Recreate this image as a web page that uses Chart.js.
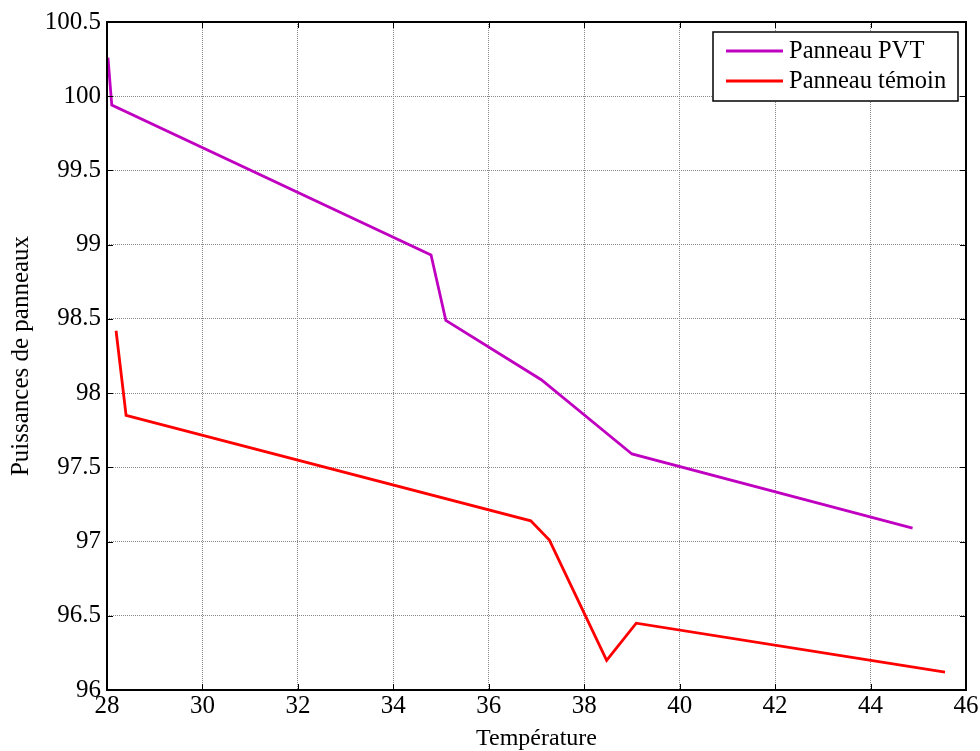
<!DOCTYPE html>
<html>
<head>
<meta charset="utf-8">
<script src="https://cdn.jsdelivr.net/npm/chart.js@4/dist/chart.umd.min.js"></script>
<style>
  html, body { margin: 0; padding: 0; background: #fff; }
  #wrap { width: 980px; height: 751px; }
</style>
</head>
<body>
<div id="wrap"><canvas id="chart" width="980" height="751"></canvas></div>
<script>
// data
const pvtTemp = [28.02, 28.1, 34.79, 35.1, 37.1, 39.0, 44.88];
const pvtPower = [100.26, 99.94, 98.93, 98.49, 98.09, 97.59, 97.09];
const refTemp = [28.19, 28.4, 36.88, 37.27, 38.47, 39.09, 45.56];
const refPower = [98.42, 97.85, 97.14, 97.01, 96.2, 96.45, 96.12];
const seriesNames = ['Panneau PVT', 'Panneau témoin'];
const seriesColors = ['#c000c0', '#ff0000'];
const xTicks = [28, 30, 32, 34, 36, 38, 40, 42, 44, 46];
const yTicks = [96, 96.5, 97, 97.5, 98, 98.5, 99, 99.5, 100, 100.5];

const serif = "'Liberation Serif', 'Times New Roman', serif";

function toPoints(xs, ys) {
    return xs.map((x, i) => ({ x: x, y: ys[i] }));
}

// black box, inside ticks on all four sides, legend in the corner
const matlabAxes = {
    id: 'matlabAxes',
    afterDraw(chart) {
        const ctx = chart.ctx;
        const a = chart.chartArea;
        const xs = chart.scales.x, ys = chart.scales.y;
        ctx.save();
        ctx.strokeStyle = '#000';
        ctx.lineWidth = 1;
        ctx.beginPath();
        xTicks.forEach(v => {
            const px = Math.round(xs.getPixelForValue(v)) + 0.5;
            ctx.moveTo(px, a.bottom); ctx.lineTo(px, a.bottom - 6);
            ctx.moveTo(px, a.top); ctx.lineTo(px, a.top + 6);
        });
        yTicks.forEach(v => {
            const py = Math.round(ys.getPixelForValue(v)) + 0.5;
            ctx.moveTo(a.left, py); ctx.lineTo(a.left + 6, py);
            ctx.moveTo(a.right, py); ctx.lineTo(a.right - 6, py);
        });
        ctx.stroke();
        ctx.lineWidth = 2;
        ctx.strokeRect(a.left, a.top, a.right - a.left, a.bottom - a.top);

        // legend
        const lx = 713, ly = 32, lw = 245, lh = 69;
        ctx.fillStyle = '#fff';
        ctx.fillRect(lx, ly, lw, lh);
        ctx.lineWidth = 1.5;
        ctx.strokeRect(lx, ly, lw, lh);
        ctx.font = '24.5px ' + serif;
        ctx.textBaseline = 'middle';
        seriesNames.forEach((name, i) => {
            const y = ly + 19 + i * 30;
            ctx.strokeStyle = seriesColors[i];
            ctx.lineWidth = 2.8;
            ctx.beginPath();
            ctx.moveTo(lx + 13, y); ctx.lineTo(lx + 70, y);
            ctx.stroke();
            ctx.fillStyle = '#000';
            ctx.fillText(name, lx + 76, y + 1);
        });
        ctx.restore();
    }
};

new Chart(document.getElementById('chart'), {
    type: 'line',
    data: {
        datasets: [
            {
                label: seriesNames[0],
                data: toPoints(pvtTemp, pvtPower),
                borderColor: seriesColors[0],
                borderWidth: 2.8,
                pointRadius: 0,
                tension: 0
            },
            {
                label: seriesNames[1],
                data: toPoints(refTemp, refPower),
                borderColor: seriesColors[1],
                borderWidth: 2.8,
                pointRadius: 0,
                tension: 0
            }
        ]
    },
    options: {
        responsive: false,
        animation: false,
        layout: { padding: { top: 22, right: 14, left: 0, bottom: 0 } },
        plugins: {
            legend: { display: false },
            tooltip: { enabled: false }
        },
        scales: {
            x: {
                type: 'linear',
                min: 28,
                max: 46,
                afterBuildTicks: s => { s.ticks = xTicks.map(v => ({ value: v })); },
                afterFit: s => { s.height = 61; },
                ticks: { color: '#000', font: { family: serif, size: 25 }, padding: 1, maxRotation: 0 },
                grid: { color: '#888', lineWidth: 1, drawTicks: false },
                border: { display: false, dash: [1, 1] },
                title: { display: true, text: 'Température', color: '#000', font: { family: serif, size: 24, lineHeight: 1 }, padding: 0 }
            },
            y: {
                min: 96,
                max: 100.5,
                afterBuildTicks: s => { s.ticks = yTicks.map(v => ({ value: v })); },
                afterFit: s => { s.width = 107; },
                ticks: { color: '#000', font: { family: serif, size: 25 }, padding: 6, callback: v => String(v) },
                grid: { color: '#888', lineWidth: 1, drawTicks: false },
                border: { display: false, dash: [1, 1] },
                title: { display: true, text: 'Puissances de panneaux', color: '#000', font: { family: serif, size: 25, lineHeight: 1 }, padding: { top: 9, bottom: 0 } }
            }
        }
    },
    plugins: [matlabAxes]
});
</script>
</body>
</html>
